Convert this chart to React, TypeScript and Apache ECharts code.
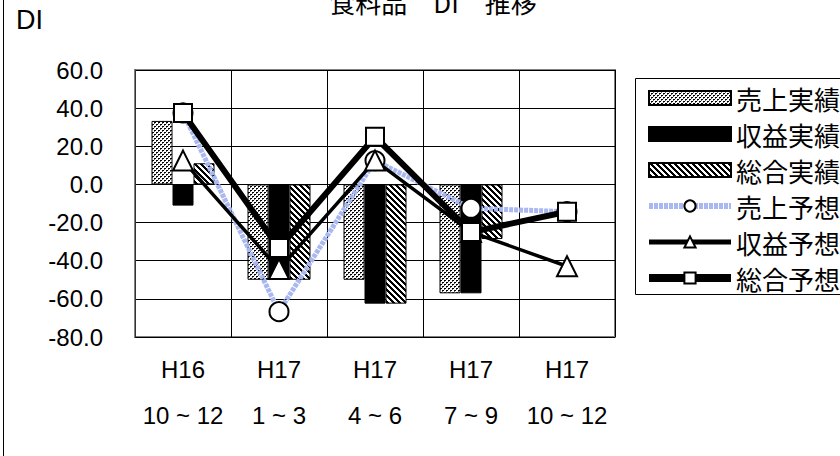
import React, { useEffect, useRef } from "react";
import * as echarts from "echarts";

const periodYears = ["H16", "H17", "H17", "H17", "H17"];
const periodMonths = ["10 ~ 12", "1 ~ 3", "4 ~ 6", "7 ~ 9", "10 ~ 12"];

const salesActual = [33.3, -50, -50, -57.1, null];
const profitActual = [-11.1, -50, -62.5, -57.1, null];
const totalActual = [11.1, -50, -62.5, -28.6, null];
const salesForecast = [37.5, -66.7, 12.5, -12.5, -14.3];
const profitForecast = [12.5, -44.4, 12.5, -25, -42.9];
const totalForecast = [37.5, -33.3, 25, -25, -14.3];

const seriesNames = ["売上実績", "収益実績", "総合実績", "売上予想", "収益予想", "総合予想"];

function makeTile(w: number, h: number, draw: (ctx: CanvasRenderingContext2D) => void) {
  const c = document.createElement("canvas");
  c.width = w;
  c.height = h;
  const ctx = c.getContext("2d")!;
  draw(ctx);
  return c;
}

export default function App() {
  const ref = useRef<HTMLDivElement>(null);
  useEffect(() => {
    if (!ref.current) return;
    const stipple = makeTile(4, 4, (ctx) => {
      ctx.fillStyle = "#ffffff";
      ctx.fillRect(0, 0, 4, 4);
      ctx.fillStyle = "#000000";
      ctx.fillRect(0, 0, 2, 1);
      ctx.fillRect(2, 2, 2, 1);
      ctx.fillStyle = "#606060";
      ctx.fillRect(0, 1, 1, 1);
      ctx.fillRect(2, 3, 1, 1);
    });
    const hatch = makeTile(6, 6, (ctx) => {
      ctx.fillStyle = "#ffffff";
      ctx.fillRect(0, 0, 6, 6);
      ctx.fillStyle = "#000000";
      for (let x = 0; x < 6; x++) {
        for (let y = 0; y < 6; y++) {
          const d = (((x - y) % 6) + 6) % 6;
          if (d < 3) ctx.fillRect(x, y, 1, 1);
        }
      }
    });
    const chart = echarts.init(ref.current, undefined, { renderer: "svg" });
    const categories = periodYears.map((y, i) => y + "\n" + periodMonths[i]);
    const barBase = {
      type: "bar" as const,
      barWidth: 21,
      barGap: "0%",
    };
    const lineBase = {
      type: "line" as const,
      showAllSymbol: true,
      connectNulls: false,
    };
    const salesLine = { color: "#a9b8f0", width: 5, type: [4, 1] as number[] };
    const profitLine = { color: "#000", width: 3.5 };
    const totalLine = { color: "#000", width: 6 };
    chart.setOption({
      animation: false,
      backgroundColor: "#ffffff",
      grid: {
        left: 135,
        right: 225,
        top: 70,
        bottom: 119,
        show: true,
        borderColor: "#808080",
        borderWidth: 2,
        backgroundColor: "transparent",
      },
      graphic: [
        {
          type: "rect",
          shape: { x: 3.5, y: -20, width: 900, height: 520 },
          style: { fill: "none", stroke: "#000", lineWidth: 1 },
          silent: true,
        },
        {
          type: "rect",
          shape: { x: 635.5, y: 78.5, width: 260, height: 216 },
          style: { fill: "none", stroke: "#000", lineWidth: 1 },
          silent: true,
        },
        {
          type: "text",
          x: 433,
          y: 1,
          style: {
            text: "食料品　DI　推移",
            fontSize: 26,
            fontFamily: "Noto Sans CJK JP",
            fill: "#000",
            textAlign: "center",
            textVerticalAlign: "middle",
          },
        },
        {
          type: "text",
          x: 16,
          y: 20,
          style: {
            text: "DI",
            fontSize: 27,
            fontFamily: "Liberation Sans, Arial",
            fill: "#000",
            textAlign: "left",
            textVerticalAlign: "middle",
          },
        },
      ],
      legend: {
        orient: "vertical",
        left: 645,
        top: 80,
        padding: 0,
        itemGap: 0,
        itemWidth: 82,
        itemHeight: 14,
        data: [
          { name: seriesNames[0], icon: "rect" },
          { name: seriesNames[1], icon: "rect" },
          { name: seriesNames[2], icon: "rect" },
          { name: seriesNames[3], lineStyle: { ...salesLine, width: 6 } },
          { name: seriesNames[4], lineStyle: { ...profitLine, width: 5 } },
          { name: seriesNames[5], lineStyle: { ...totalLine, width: 8 } },
        ],
        textStyle: {
          fontSize: 26,
          lineHeight: 36,
          fontFamily: "Noto Sans CJK JP",
          color: "#000",
        },
      },
      xAxis: {
        type: "category",
        data: categories,
        boundaryGap: true,
        axisLine: { show: false },
        axisTick: { show: false },
        splitLine: { show: true, lineStyle: { color: "#000", width: 1 } },
        axisLabel: {
          fontSize: 24,
          lineHeight: 46,
          margin: 9,
          color: "#000",
          fontFamily: "Liberation Sans, Arial",
          interval: 0,
        },
      },
      yAxis: {
        type: "value",
        min: -80,
        max: 60,
        interval: 20,
        axisLine: { show: true, lineStyle: { color: "#333", width: 1 } },
        axisTick: { show: false },
        splitLine: { show: true, lineStyle: { color: "#000", width: 1 } },
        axisLabel: {
          fontSize: 24,
          margin: 32,
          color: "#000",
          fontFamily: "Liberation Sans, Arial",
          formatter: (v: number) => v.toFixed(1),
        },
      },
      series: [
        {
          ...barBase,
          name: seriesNames[0],
          data: salesActual,
          itemStyle: { color: { image: stipple, repeat: "repeat" }, borderColor: "#000", borderWidth: 1 },
        },
        {
          ...barBase,
          name: seriesNames[1],
          data: profitActual,
          itemStyle: { color: "#000", borderColor: "#000", borderWidth: 1 },
        },
        {
          ...barBase,
          name: seriesNames[2],
          data: totalActual,
          itemStyle: { color: { image: hatch, repeat: "repeat" }, borderColor: "#000", borderWidth: 1 },
        },
        {
          ...lineBase,
          name: seriesNames[3],
          data: salesForecast,
          symbol: "circle",
          symbolSize: 19,
          lineStyle: salesLine,
          itemStyle: { color: "#fff", borderColor: "#000", borderWidth: 2 },
        },
        {
          ...lineBase,
          name: seriesNames[4],
          data: profitForecast,
          symbol: "triangle",
          symbolSize: 20,
          lineStyle: profitLine,
          itemStyle: { color: "#fff", borderColor: "#000", borderWidth: 2 },
        },
        {
          ...lineBase,
          name: seriesNames[5],
          data: totalForecast,
          symbol: "rect",
          symbolSize: 18,
          lineStyle: totalLine,
          itemStyle: { color: "#fff", borderColor: "#000", borderWidth: 2 },
        },
      ],
    });
    return () => chart.dispose();
  }, []);
  return (
    <div
      ref={ref}
      style={{ position: "fixed", left: 0, top: 0, width: 840, height: 456 }}
    />
  );
}
